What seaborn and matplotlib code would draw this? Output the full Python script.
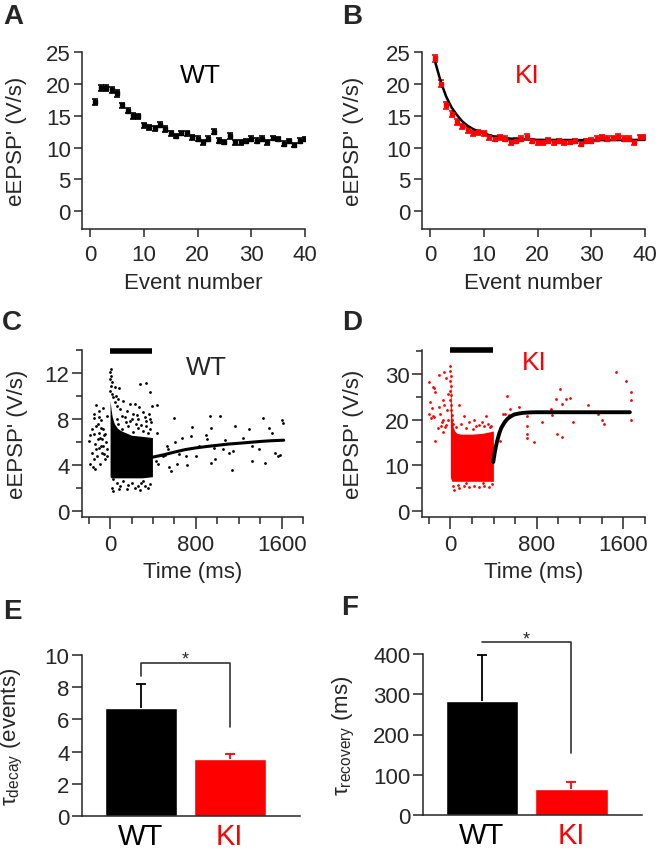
import numpy as np
import pandas as pd
import seaborn as sns
from matplotlib import pyplot as plt
from matplotlib.ticker import MultipleLocator, FixedLocator

sns.set_style("ticks")
plt.rcParams['font.family'] = ['Liberation Sans', 'DejaVu Sans']
plt.rcParams['mathtext.fontset'] = 'custom'
plt.rcParams['mathtext.rm'] = 'Liberation Sans'
plt.rcParams['mathtext.it'] = 'Liberation Sans:italic'
plt.rcParams['axes.linewidth'] = 1.1

RED = '#ff0000'

# --- A / B : eEPSP' vs event number (mean, sem) ---
events = list(range(1, 41))
wt_mean = [17.1, 19.3, 19.3, 19.0, 18.5, 16.6, 15.8, 15.0, 14.9, 13.5,
           13.2, 13.0, 13.6, 12.9, 12.2, 11.8, 12.3, 12.2, 11.6, 11.4,
           10.8, 11.4, 12.5, 11.1, 10.9, 11.8, 10.8, 10.8, 11.0, 11.4,
           11.1, 11.4, 10.8, 11.5, 11.3, 10.6, 11.0, 10.4, 11.1, 11.3]
wt_sem = [0.5, 0.5, 0.5, 0.5, 0.5, 0.45, 0.45, 0.45, 0.4, 0.4,
          0.4, 0.4, 0.4, 0.4, 0.4, 0.35, 0.35, 0.35, 0.35, 0.35,
          0.35, 0.35, 0.45, 0.35, 0.35, 0.4, 0.35, 0.35, 0.35, 0.35,
          0.35, 0.35, 0.35, 0.35, 0.35, 0.35, 0.35, 0.35, 0.35, 0.35]
ki_mean = [24.0, 20.0, 16.6, 15.3, 14.0, 13.3, 12.7, 12.2, 12.4, 12.2,
           11.6, 11.4, 11.6, 11.4, 10.8, 11.1, 11.4, 11.7, 11.0, 10.8,
           10.8, 11.1, 10.8, 11.0, 10.8, 10.9, 11.0, 10.6, 11.0, 11.1,
           11.4, 11.6, 11.4, 11.5, 11.7, 11.4, 11.4, 10.8, 11.6, 11.6]
ki_sem = [0.5, 0.55, 0.55, 0.5, 0.5, 0.45, 0.45, 0.4, 0.4, 0.4,
          0.4, 0.4, 0.4, 0.4, 0.4, 0.35, 0.35, 0.35, 0.35, 0.35,
          0.35, 0.35, 0.35, 0.35, 0.35, 0.35, 0.35, 0.35, 0.35, 0.35,
          0.35, 0.35, 0.35, 0.35, 0.35, 0.35, 0.35, 0.35, 0.35, 0.35]
ki_fit_x = [1, 2, 3, 4, 5, 6, 7, 8, 9, 10, 12, 14, 17, 20, 30, 40]
ki_fit_y = [23.3, 20.3, 18.0, 16.3, 15.1, 14.1, 13.4, 12.9, 12.5, 12.2,
            11.7, 11.45, 11.3, 11.2, 11.15, 11.2]

# --- C : WT eEPSP' vs time, single events ---
c_pre_t = [-132, -148, -154, -108, -99, -68, -86, -129, -169, -185, -154, -108,
           -92, -62, -46, -117, -139, -86, -62, -37, -25, -77, -55, -123, -154,
           -185, -160, -139, -92, -46, -31, -200, -129, -102, -169, -74, -55,
           -31, -111, -86]
c_pre_v = [9.2, 8.4, 8.1, 8.2, 8.7, 9.0, 7.9, 7.4, 7.1, 6.6, 6.7, 6.8,
           6.4, 7.1, 6.7, 6.3, 5.8, 5.7, 5.7, 6.0, 5.4, 5.1, 5.0, 4.8, 4.5,
           4.1, 3.8, 3.7, 4.1, 4.5, 4.8, 6.1, 5.4, 5.5, 5.1, 6.3, 6.6,
           8.3, 7.6, 7.2]
c_train_t = [6, 0, 9, 2, 15, 6, 0, 22, 46, 86, 283, 339, 376, 394, 123, 185,
             231, 92, 154, 216, 271, 323, 370, 46, 68, 139, 262, 308, 108,
             185, 240, 339, 385, 31, 55, 77,
             108, 169, 216, 262, 308, 354, 376, 77, 148, 293, 333, 62, 200,
             253, 363,
             15, 31, 62, 92, 123, 169, 200, 231, 262, 293, 323, 354, 376,
             31, 154, 277, 86, 308]
c_train_v = [12.35, 12.06, 11.77, 11.48, 11.19, 10.9, 10.46, 10.17, 10.75,
             10.67, 11.04, 11.1, 10.38, 9.16, 9.59, 9.3, 9.3, 8.87, 8.72, 8.43,
             9.01, 8.14, 8.0, 9.45, 9.16, 8.14, 8.0, 8.58, 8.29, 7.86, 7.57,
             7.42, 7.71, 9.88, 10.03, 9.74,
             7.13, 7.36, 6.84, 7.19, 6.99, 6.78, 7.13, 7.57, 7.71, 7.48, 7.86,
             8.0, 8.0, 8.35, 8.43,
             2.06, 1.77, 2.49, 2.2, 2.64, 2.26, 2.49, 2.06, 2.2, 2.43, 2.2,
             2.06, 2.35, 2.78, 1.91, 1.86, 1.97, 2.64]
# dense part of the train (upper / lower edge of the solid cloud)
c_block_t = [0, 10, 20, 40, 70, 100, 150, 200, 300, 395]
c_block_hi = [9.6, 8.8, 8.2, 7.6, 7.2, 7.0, 6.8, 6.6, 6.5, 6.4]
c_block_lo = [3.0, 2.9, 2.9, 2.9, 2.9, 2.9, 2.9, 2.9, 2.9, 3.0]
c_rec_t = [600, 930, 1023, 1423, 1608, 1617, 1164, 1300, 764, 939, 1485, 1509,
           671, 755, 893, 908, 1072, 1238, 530, 539, 610, 832, 970, 1053,
           1109, 1146, 1324, 1386, 1540, 1571, 1586, 493, 517, 647, 708, 801,
           939, 979, 554, 570, 622, 715, 1140, 1324, 1441, 447, 431, 440, 437]
c_rec_v = [8.1, 8.3, 8.3, 8.1, 7.9, 7.7, 7.4, 7.1, 7.3, 7.2, 7.2, 6.8,
           6.4, 6.5, 6.6, 6.3, 6.2, 6.4, 5.7, 5.4, 6.0, 5.7, 5.5, 5.4,
           5.1, 5.2, 5.7, 5.4, 5.1, 4.8, 4.9, 4.8, 4.9, 5.0, 4.8, 4.8,
           4.2, 4.5, 3.8, 3.5, 4.1, 4.0, 3.6, 4.4, 4.2, 4.1, 4.4, 6.8, 9.2]
c_fit_t = [400, 500, 585, 700, 800, 900, 1016, 1100, 1200, 1300, 1417, 1500, 1620]
c_fit_v = [4.7, 4.9, 5.1, 5.35, 5.5, 5.62, 5.74, 5.83, 5.9, 5.98, 6.07, 6.12, 6.17]

# --- D : KI eEPSP' vs time, single events ---
d_pre_t = [-200, -157, -142, -148, -102, -55, -40, -188, -169, -194, -179, -148,
           -108, -65, -55, -95, -77, -34, -25, -117, -139, -71, -46, -22,
           -163, -86, -40, -71]
d_pre_v = [28.2, 27.2, 26.1, 26.9, 29.8, 30.5, 29.1, 23.8, 22.5, 21.2, 20.3, 20.5,
           22.7, 24.2, 23.1, 21.2, 19.4, 22.0, 25.6, 18.1, 15.4, 17.2, 18.3, 19.8,
           20.7, 18.5, 18.8, 20.0]
d_train_t = [0, 0, 3, 0, 3, 0, 6, 0, 9, 6, 12, 15,
             83, 129, 222, 330, 376, 52, 176, 268, 314, 99, 145, 237, 345, 367,
             22, 206, 293,
             22, 37, 83, 129, 176, 222, 268, 314, 360, 385, 68, 299, 145]
d_train_v = [31.8, 30.7, 29.6, 28.5, 27.4, 26.3, 25.3, 24.2, 23.1, 22.0, 20.9, 19.8,
             23.1, 20.7, 19.8, 20.7, 18.5, 18.3, 19.4, 18.8, 18.5, 19.1, 18.1,
             18.5, 19.1, 18.3, 19.1, 18.0, 19.4,
             5.55, 4.67, 4.96, 5.4, 5.18, 5.55, 5.18, 5.55, 5.18, 5.9, 5.7, 6.1, 6.1]
d_block_t = [0, 5, 10, 15, 25, 40, 60, 100, 200, 300, 360, 398]
d_block_hi = [31.0, 27.0, 23.0, 20.5, 18.5, 17.5, 17.0, 16.8, 16.8, 17.0, 17.3, 17.5]
d_block_lo = [7.5, 7.0, 6.8, 6.5, 6.5, 6.5, 6.5, 6.5, 6.5, 6.5, 6.5, 6.5]
d_rec_t = [520, 551, 484, 539, 638, 705, 705, 705, 705, 776, 847, 930, 939, 976,
           1013, 1032, 1069, 1106, 1137, 982, 1032, 1269, 1361, 1401, 1423, 1531,
           1623, 1669, 1669, 1669, 459, 508]
d_rec_v = [25.1, 22.3, 21.2, 21.0, 22.7, 20.7, 18.5, 16.9, 15.9, 15.0, 19.4, 22.3,
           21.0, 24.4, 26.6, 23.4, 24.5, 24.7, 19.4, 16.9, 16.1, 23.1, 21.2, 19.8,
           19.1, 30.4, 28.5, 26.1, 24.2, 19.8, 15.4, 21.2]
d_fit_t = [397, 410, 422, 435, 453, 470, 484, 505, 530, 560, 591, 630, 668, 730,
           792, 900, 1100, 1660]
d_fit_v = [10.7, 12.7, 14.2, 15.5, 17.0, 18.1, 18.7, 19.5, 20.2, 20.7, 21.1, 21.3,
           21.45, 21.55, 21.6, 21.6, 21.6, 21.6]

# --- E / F : time constants ---
groups = ['WT', 'KI']
tau_decay = [6.7, 3.55]
tau_decay_err = [1.5, 0.3]
tau_rec = [283, 65]
tau_rec_err = [115, 18]
train_bar = [0, 395]

fig = plt.figure(figsize=(6.6, 8.53), dpi=100)
W, H = 660, 853


def add_ax(l, t, r, b):
    return fig.add_axes([l / W, 1 - b / H, (r - l) / W, (b - t) / H])


def style(ax):
    sns.despine(ax=ax)
    ax.tick_params(axis='both', which='major', length=6, width=1.1,
                   labelsize=16, pad=5, direction='out')
    ax.tick_params(axis='both', which='minor', length=4, width=1.1, direction='out')
    ax.tick_params(axis='y', which='major', pad=2)


axA = add_ax(82, 53, 305, 230)
axB = add_ax(422, 53, 645, 230)
axC = add_ax(82, 351, 303, 518)
axD = add_ax(422, 351, 645, 518)
axE = add_ax(82, 656, 300, 817)
axF = add_ax(423, 655, 642, 816)

# A and B
for ax, mean, sem, col, name in [(axA, wt_mean, wt_sem, 'black', 'WT'),
                                 (axB, ki_mean, ki_sem, RED, 'KI')]:
    ax.errorbar(events, mean, yerr=sem, fmt='s', ms=2.3, color=col,
                ecolor=col, elinewidth=1.2, capsize=2.2, capthick=1.2)
    ax.set_xlim(-1.5, 40)
    ax.set_ylim(-2.8, 25)
    ax.xaxis.set_major_locator(MultipleLocator(10))
    ax.yaxis.set_major_locator(MultipleLocator(5))
    ax.set_xlabel('Event number', fontsize=16, labelpad=5)
    ax.set_ylabel("eEPSP' (V/s)", fontsize=16)
    ax.text(0.53 if name == 'WT' else 0.47, 0.87, name, transform=ax.transAxes,
            fontsize=19, color=col, ha='center', va='center')
    style(ax)
sns.lineplot(x=ki_fit_x, y=ki_fit_y, color='black', lw=1.8, ax=axB)

# C and D
for ax, col, pre_t, pre_v, tr_t, tr_v, bt, bhi, blo, rt, rv, ft, fv, lw in [
        (axC, 'black', c_pre_t, c_pre_v, c_train_t, c_train_v, c_block_t,
         c_block_hi, c_block_lo, c_rec_t, c_rec_v, c_fit_t, c_fit_v, 2.2),
        (axD, RED, d_pre_t, d_pre_v, d_train_t, d_train_v, d_block_t,
         d_block_hi, d_block_lo, d_rec_t, d_rec_v, d_fit_t, d_fit_v, 2.8)]:
    ax.fill_between(bt, blo, bhi, color=col, lw=0)
    for xs, ys in [(pre_t, pre_v), (tr_t, tr_v), (rt, rv)]:
        sns.scatterplot(x=xs, y=ys, color=col, s=4, linewidth=0, ax=ax)
    sns.lineplot(x=ft, y=fv, color='black', lw=lw, ax=ax)
    ax.set_xlim(-262, 1800)
    ax.xaxis.set_major_locator(FixedLocator([0, 800, 1600]))
    ax.xaxis.set_minor_locator(MultipleLocator(200))
    ax.set_xlabel('Time (ms)', fontsize=16, labelpad=4)
    ax.set_ylabel("eEPSP' (V/s)", fontsize=16)
    style(ax)
    ax.tick_params(axis='x', which='major', length=8.5, pad=4)
    ax.tick_params(axis='x', which='minor', length=5)
    ax.tick_params(axis='y', which='major', length=7)
    ax.tick_params(axis='y', which='minor', length=4)

axC.set_ylim(-0.5, 14)
axC.yaxis.set_major_locator(MultipleLocator(4))
axC.yaxis.set_minor_locator(MultipleLocator(2))
axC.plot(train_bar, [13.95, 13.95], color='black', lw=4, solid_capstyle='butt', clip_on=False)
axC.text(900, 12.5, 'WT', fontsize=19, ha='center', va='center')

axD.set_ylim(-1.3, 35.2)
axD.yaxis.set_major_locator(MultipleLocator(10))
axD.yaxis.set_minor_locator(MultipleLocator(5))
axD.plot(train_bar, [35.1, 35.1], color='black', lw=4, solid_capstyle='butt', clip_on=False)
axD.text(780, 32.6, 'KI', fontsize=19, color=RED, ha='center', va='center')

# E and F
for ax, vals, errs, ylim, step in [(axE, tau_decay, tau_decay_err, 10, 2),
                                   (axF, tau_rec, tau_rec_err, 400, 100)]:
    df = pd.DataFrame({'group': groups, 'val': vals})
    sns.barplot(data=df, x='group', y='val', hue='group', palette=['black', RED],
                width=0.81, saturation=1, legend=False, errorbar=None, ax=ax)
    for i, (v, e, c) in enumerate(zip(vals, errs, ['black', RED])):
        eb = ax.errorbar([i], [v], yerr=[[0], [e]], fmt='none', ecolor=c,
                         elinewidth=1.3, capsize=3.5, capthick=1.3)
        eb[1][0].set_visible(False)
    ax.set_xlim(-0.66, 1.79)
    ax.set_ylim(0, ylim)
    ax.yaxis.set_major_locator(MultipleLocator(step))
    ax.set_xlabel('')
    style(ax)
    ax.tick_params(axis='y', which='major', length=7)
    ax.tick_params(axis='x', length=0, labelsize=21, pad=4)
    for lab, c in zip(ax.get_xticklabels(), ['black', RED]):
        lab.set_color(c)

axE.set_ylabel(r'τ$_{\rm decay}$ (events)', fontsize=16)
axF.set_ylabel(r'τ$_{\rm recovery}$ (ms)', fontsize=16)

sig_e_x = [0, 0, 1, 1]
sig_e_y = [8.7, 9.5, 9.5, 5.5]
axE.plot(sig_e_x, sig_e_y, color='#333333', lw=1.2, clip_on=False)
axE.text(0.5, 9.25, '*', ha='center', va='bottom', fontsize=13)
sig_f_x = [0, 1, 1]
sig_f_y = [430, 430, 154]
axF.plot(sig_f_x, sig_f_y, color='#333333', lw=1.2, clip_on=False)
axF.text(0.5, 417, '*', ha='center', va='bottom', fontsize=13, clip_on=False)

# label positions
axA.yaxis.set_label_coords(-0.245, 0.5)
axB.yaxis.set_label_coords(-0.26, 0.5)
axC.yaxis.set_label_coords(-0.245, 0.5)
axD.yaxis.set_label_coords(-0.26, 0.5)
axE.yaxis.set_label_coords(-0.26, 0.5)
axF.yaxis.set_label_coords(-0.30, 0.5)

for lab, x, y in [('A', 13, 17), ('B', 352, 17), ('C', 12, 323),
                  ('D', 352, 323), ('E', 12, 612), ('F', 350, 608)]:
    fig.text(x / W, 1 - y / H, lab, fontsize=20, fontweight='bold',
             ha='center', va='center')

fig.savefig('out.png', dpi=100)
